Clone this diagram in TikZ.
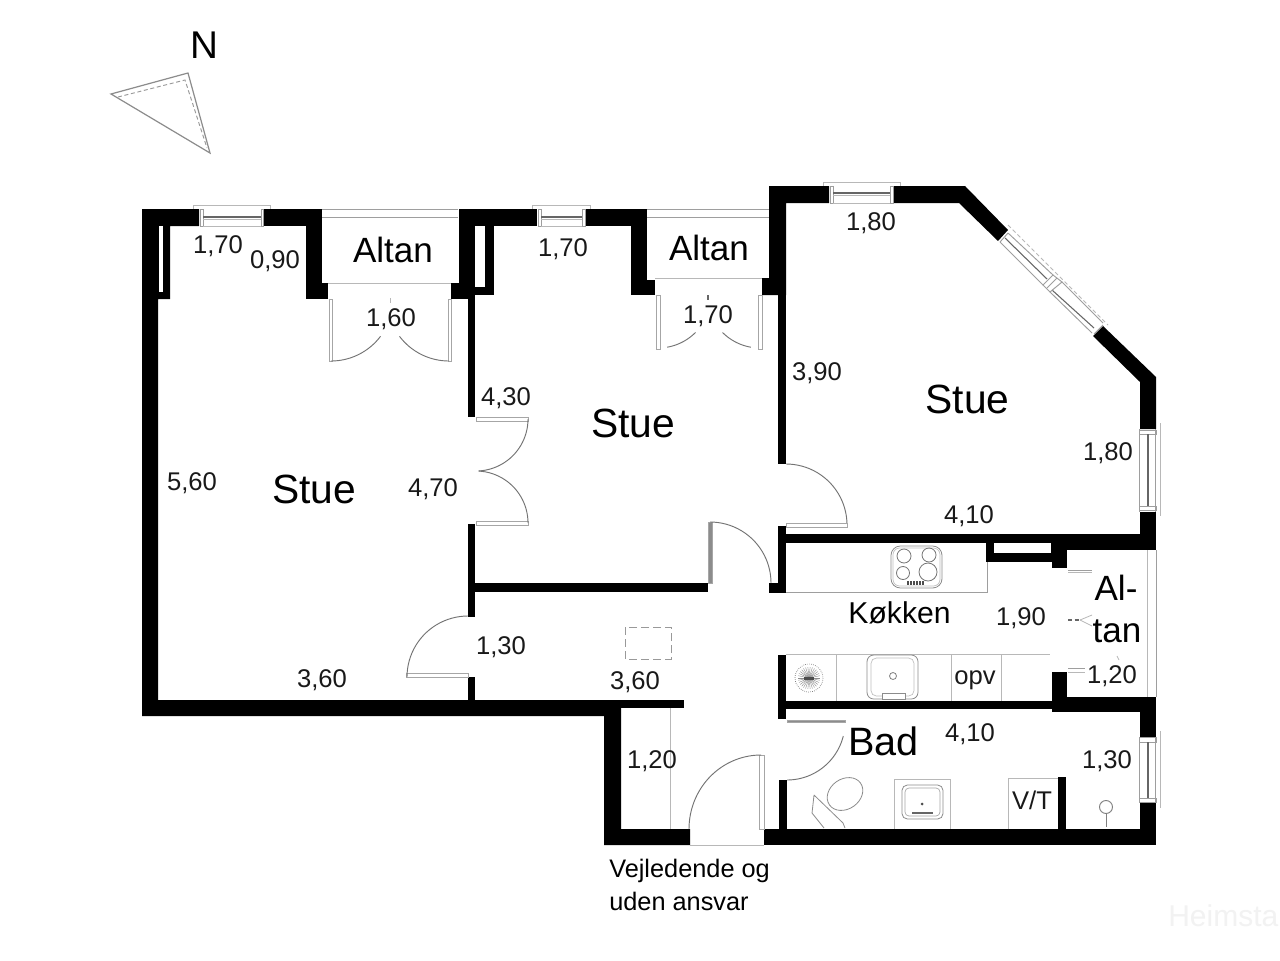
\documentclass[tikz,border=0pt]{standalone}
\usepackage{fontspec}
\setmainfont{Liberation Sans}
\newcommand{\wall}[4]{\fill[black] (#1,#2) rectangle (#3,#4);}
\newcommand{\doorarc}[5]{\draw[arcline] plot[domain=#4:#5,samples=24,smooth] ({#1+#3*cos(\x)},{#2+#3*sin(\x)});}
\tikzset{
  x=0.75pt,y=-0.75pt,
  arcline/.style={draw=black!55,line width=0.7pt},
  thin gray/.style={draw=black!28,line width=0.6pt},
  leaf/.style={draw=black!35,fill=white,line width=0.6pt},
  solidleaf/.style={draw=black!35,fill=black!45,line width=0.4pt},
  frame/.style={draw=black!38,line width=0.7pt},
  dark/.style={draw=black!60,line width=0.8pt},
  dim/.style={font=\fontsize{19.2}{19.2}\selectfont,inner sep=0pt,text=black!90,yshift=-1.1pt},
  room/.style={font=\fontsize{30.6}{30.6}\selectfont,inner sep=0pt},
  mid/.style={font=\fontsize{26.3}{26.3}\selectfont,inner sep=0pt},
  cap1/.style={font=\fontsize{19}{19}\selectfont,inner sep=0pt,anchor=west},
  fix/.style={draw=black!45,line width=0.6pt,fill=white},
}
\begin{document}
\begin{tikzpicture}
\useasboundingbox (0,0) rectangle (1280,960);
\fill[white] (0,0) rectangle (1280,960);

% compass
\draw[draw=black!45,line width=0.9pt,line join=miter] (188,73) -- (111,94) -- (210,153) -- cycle;
\draw[draw=black!40,line width=0.7pt,densely dashed] (118,97) -- (185,80) -- (207,148);
\node[font=\fontsize{29}{29}\selectfont,inner sep=0pt] (north) at (204,45) {N};

% main outer / left walls
\fill[black] (142,209) -- (199,209) -- (199,226) -- (170,226) -- (170,299) -- (158,299) -- (158,700) -- (621,700) -- (621,829) -- (690,829) -- (690,845) -- (604,845) -- (604,716) -- (142,716) -- cycle;
\fill[white] (158.5,226) rectangle (162.5,292);
\wall{264}{209}{322}{226}
\wall{306}{209}{322}{299}
\wall{306}{283}{328}{299}
% second unit top
\wall{459}{209}{537}{226}
\wall{459}{209}{475}{295}
\wall{451}{283}{475}{299}
\wall{475}{226}{494}{295}
\fill[white] (475,226) rectangle (485,287);
\wall{468}{295}{475}{417}
\wall{468}{524}{475}{617}
\wall{468}{677}{475}{701}
\wall{475}{583}{708}{592}
\wall{621}{700}{684}{708}
\wall{586}{209}{647}{226}
\wall{631}{209}{647}{295}
\wall{631}{280}{655}{295}
% third unit
\fill[black] (769,186) -- (829,186) -- (829,203) -- (786,203) -- (786,295) -- (762,295) -- (762,278) -- (769,278) -- cycle;
\wall{778}{295}{786}{464}
\fill[black] (894,186) -- (965,186) -- (1008,230) -- (998,241) -- (959,203) -- (894,203) -- cycle;
\fill[black] (1103,326) -- (1156,377) -- (1156,429) -- (1140,429) -- (1140,382) -- (1093,336) -- cycle;
\wall{1140}{512}{1156}{550}
\wall{778}{526}{786}{593}
\wall{769}{583}{786}{593}
\wall{786}{534}{1053}{543}
\wall{1052}{534}{1156}{550}
\wall{1052}{534}{1067}{568}
\wall{986}{543}{1052}{562}
\fill[white] (994,543) rectangle (1051,553);
% kitchen lower / bath
\wall{778}{655}{786}{719}
\wall{786}{701}{1054}{709}
\wall{1052}{672}{1067}{712}
\wall{1052}{697}{1156}{712}
\wall{1140}{712}{1156}{737}
\wall{1140}{802}{1156}{845}
\wall{764}{829}{1156}{845}
\wall{779}{780}{787}{829}
\wall{1058}{777}{1066}{829}

% top windows
\foreach \a/\b/\c/\d/\e/\f/\yt/\yi/\yb in {193/199/203/260/264/270/205/218/226,532/537/541/581/586/590/205/218/226,823/829/833/889/894/900/182/194/203}{
  \draw[thin gray] (\a,\yt) -- (\f,\yt);
  \draw[thin gray] (\a,\yt) -- (\a,\yt+4);
  \draw[thin gray] (\f,\yt) -- (\f,\yt+4);
  \draw[frame] (\b+1,\yt+4) rectangle (\c,\yb);
  \draw[frame] (\d+1,\yt+4) rectangle (\e-1,\yb);
  \draw[dark] (\c,\yi-1) -- (\d+1,\yi-1);
  \draw[thin gray] (\c,\yi+1) -- (\d+1,\yi+1);
  \draw[thin gray] (\c,\yb) -- (\d+1,\yb);
}

% diagonal window
\draw[thin gray,densely dashed] (1008,225) -- (1108,325);
\draw[frame] (1000,242) -- (1043,285);
\draw[frame] (1050,292) -- (1092,333);
\draw[frame] (1008,233) -- (1053,275);
\draw[frame] (1062,282) -- (1103,323);
\draw[dark] (1005,238) -- (1047,279);
\draw[dark] (1052,290) -- (1094,328);
\draw[frame] (1043,285) -- (1053,275) -- (1062,282) -- (1050,292) -- cycle;
\draw[frame] (1047,288) -- (1057,278);
\draw[frame] (1000,242) -- (1008,233);
\draw[frame] (1094,334) -- (1103,325);

% right windows
\draw[frame] (1139.5,429) -- (1139.5,512);
\draw[frame] (1155.5,429) -- (1155.5,512);
\draw[frame] (1139.5,430) rectangle (1156,434);
\draw[frame] (1139.5,506) rectangle (1156,510);
\draw[dark] (1148,434) -- (1148,506);
\draw[thin gray] (1160,423) -- (1160,516);
\draw[frame] (1139.5,737) -- (1139.5,802);
\draw[frame] (1155.5,737) -- (1155.5,802);
\draw[frame] (1139.5,737) rectangle (1156,742);
\draw[frame] (1139.5,798) rectangle (1156,802);
\draw[dark] (1148,742) -- (1148,798);
\draw[thin gray] (1160,731) -- (1160,808);

% balconies
\draw[frame] (322,209) -- (458,209);
\draw[frame] (322,217) -- (458,217);
\draw[thin gray] (328,283) -- (451,283);
\draw[frame] (647,209) -- (769,209);
\draw[frame] (647,217) -- (769,217);
\draw[thin gray] (655,278) -- (762,278);
\draw[thin gray] (1147,550) -- (1147,697);
\draw[frame] (1156,550) -- (1156,697);

% double doors
\draw[leaf] (329,299) rectangle (332,361);
\draw[leaf] (448,299) rectangle (451,361);
\doorarc{331}{299}{62}{90}{37}
\doorarc{449}{299}{62}{90}{143}
\draw[thin gray] (390,298) -- (390,303);
\draw[leaf] (656,295) rectangle (660,349);
\draw[leaf] (758,295) rectangle (762,349);
\doorarc{658}{295}{53}{80}{45}
\doorarc{760}{295}{53}{100}{135}
\draw[dark] (708,295) -- (708,300);

% middle double door
\draw[leaf] (476,417) rectangle (528,421);
\draw[leaf] (476,521) rectangle (528,525);
\doorarc{476}{419}{52}{0}{87}
\doorarc{476}{523}{52}{0}{-87}
% hall doors
\draw[solidleaf] (708,522) rectangle (712,583);
\doorarc{710}{583}{61}{-90}{0}
\doorarc{786}{525}{61}{-90}{0}
\draw[leaf] (786,523) rectangle (847,527);
\draw[leaf] (406,673) rectangle (468,677);
\doorarc{468}{677}{61}{-90}{-180}
% bath door
\draw[solidleaf] (787,720) rectangle (845,722.5);
\doorarc{787}{722}{58}{90}{14}
% entrance
\draw[leaf] (759,755) rectangle (764,829);
\draw[arcline] plot[domain=-90:-180,samples=24,smooth] ({761+72*cos(\x)},{829+74*sin(\x)});
\draw[thin gray] (690,845) -- (764,845);
\draw[thin gray] (670,708) -- (670,829);

% altan door remains
\draw[frame] (1068,570) -- (1092,570);
\draw[thin gray] (1068,572) -- (1092,572);
\draw[frame] (1068,668) -- (1085,668);
\draw[thin gray] (1068,672) -- (1085,672);
\draw[dark,densely dashed] (1068,620) -- (1080,620);
\draw[thin gray] (1080,620) -- (1092,615);
\draw[thin gray] (1080,620) -- (1092,626);
\draw[thin gray] (1117,656) -- (1119,660);

% dashed hatch
\draw[draw=black!40,line width=0.7pt,dashed,dash pattern=on 6pt off 3pt] (625,627) rectangle (671,659);

% kitchen counter
\draw[frame] (786,592) -- (987,592) -- (987,562);
\draw[fix,rounded corners=7pt] (891,546) rectangle (942,588);
\draw[draw=black!25,line width=0.5pt,rounded corners=5pt] (893,548) rectangle (940,586);
\draw[draw=black!55,line width=0.6pt] (904,556) circle [radius=7];
\draw[draw=black!55,line width=0.6pt] (929,555) circle [radius=7];
\draw[draw=black!55,line width=0.6pt] (903,573) circle [radius=6.5];
\draw[draw=black!55,line width=0.6pt] (928,572) circle [radius=9];
\foreach \k in {908,911,914,917,920,923}{\draw[draw=black!70,line width=0.8pt] (\k,581) -- (\k,585);}
% lower counter
\draw[thin gray] (786,654) -- (1050,654);
\draw[thin gray] (836,654) -- (836,701);
\draw[thin gray] (951,654) -- (951,701);
\draw[thin gray] (1001,654) -- (1001,701);
\draw[draw=black!55,line width=0.5pt,densely dotted] (809,678) circle [radius=14];
\foreach \k in {0,12,...,348}{\draw[draw=black!45,line width=0.3pt] (809,678) -- ++(\k:11);}
\fill[black!70] (804,676.5) rectangle (814,679.5);
\draw[fix,rounded corners=5pt] (867,655) rectangle (918,699);
\draw[draw=black!25,line width=0.5pt,rounded corners=4pt] (871,658) rectangle (914,696);
\draw[draw=black!50,line width=0.6pt] (893,676) circle [radius=3.5];
\draw[fix] (882,693) rectangle (905,699);

% bath fixtures
\draw[draw=black!45,line width=0.6pt,rotate around={35:(845,794)}] (845,794) ellipse [x radius=19,y radius=15];
\draw[draw=black!45,line width=0.6pt] (814,795) -- (812,813) -- (824,828) (845,828) -- (843,823) -- (814,795);
\draw[thin gray] (894,829) -- (894,779) -- (950,779) -- (950,829);
\draw[fix,rounded corners=4pt] (902,785) rectangle (943,819);
\draw[draw=black!35,line width=0.5pt,rounded corners=3pt] (905,788) rectangle (940,816);
\fill[black!70] (922,804) circle [radius=1.5];
\draw[dark] (912,813) -- (933,813);
\draw[thin gray] (1008,829) -- (1008,778) -- (1058,778);
\draw[draw=black!50,line width=0.7pt] (1106,807) circle [radius=6.5];
\draw[draw=black!50,line width=0.7pt] (1106,813) -- (1106,827);

% labels
\node[dim] (d1) at (218,245) {1,70};
\node[dim] (d2) at (275,260) {0,90};
\node[mid] (a1) at (393,250) {Altan};
\node[dim] (d3) at (391,318) {1,60};
\node[room] (s1) at (314,489) {Stue};
\node[dim] (d4) at (192,482) {5,60};
\node[dim] (d5) at (433,488) {4,70};
\node[dim] (d6) at (506,397) {4,30};
\node[dim] (d7) at (563,248) {1,70};
\node[mid] (a2) at (709,248) {Altan};
\node[dim] (d8) at (708,315) {1,70};
\node[room] (s2) at (633,423) {Stue};
\node[dim] (d9) at (871,222) {1,80};
\node[dim] (d10) at (817,372) {3,90};
\node[room] (s3) at (967.5,399) {Stue};
\node[dim] (d11) at (1108,452) {1,80};
\node[dim] (d12) at (969,515) {4,10};
\node[font=\fontsize{22.6}{22.6}\selectfont,inner sep=0pt] (k) at (899.5,613) {Køkken};
\node[dim] (d13) at (1021,617) {1,90};
\node[mid] (al) at (1116,588) {Al-};
\node[mid] (tan) at (1117,631) {tan};
\node[dim] (d14) at (1112,675) {1,20};
\node[dim] (opv) at (975,679) {opv};
\node[dim] (d15) at (501,646) {1,30};
\node[dim] (d16) at (322,679) {3,60};
\node[dim] (d17) at (635,681) {3,60};
\node[dim] (d18) at (652,760) {1,20};
\node[font=\fontsize{29.7}{29.7}\selectfont,inner sep=0pt] (bad) at (883.5,741) {Bad};
\node[dim] (d19) at (970,733) {4,10};
\node[dim] (d20) at (1107,760) {1,30};
\node[dim] (vt) at (1032,799) {V/T};
\node[cap1] (c1) at (609,871) {Vejledende og};
\node[cap1] (c2) at (609,901) {uden ansvar};
\node[font=\fontsize{22.5}{22.5}\selectfont,inner sep=0pt,anchor=west,text=black!5] (wm) at (1168,916) {Heimsta};
\end{tikzpicture}
\end{document}
